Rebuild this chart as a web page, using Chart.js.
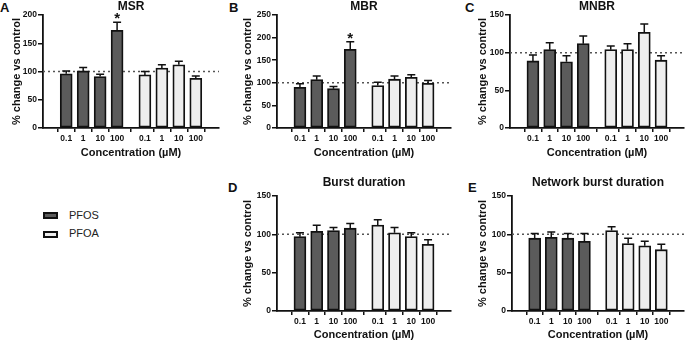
<!DOCTYPE html>
<html>
<head>
<meta charset="utf-8">
<script src="https://cdn.jsdelivr.net/npm/chart.js@4.4.1/dist/chart.umd.min.js"></script>
<style>
  body { margin: 0; background: #fff; }
  #wrap { position: relative; width: 685px; height: 340px; overflow: hidden; font-family: Arial, "Liberation Sans", sans-serif; }
  canvas { position: absolute; }
  .lett { position: absolute; font-weight: bold; font-size: 13px; line-height: 13px; color: #111; }
  .lbox { position: absolute; width: 15px; height: 7px; border: 2px solid #111; box-sizing: border-box; }
  .ltxt { position: absolute; font-size: 11px; line-height: 12px; color: #222; }
</style>
</head>
<body>
<div id="wrap">
  <div class="lett" style="left:0px;top:1px">A</div>
  <div class="lett" style="left:229px;top:1px">B</div>
  <div class="lett" style="left:465px;top:1px">C</div>
  <div class="lett" style="left:228px;top:181px">D</div>
  <div class="lett" style="left:468px;top:181px">E</div>

  <div class="lbox" style="left:43px;top:212px;background:#5b5b5b"></div>
  <div class="ltxt" style="left:69px;top:209px">PFOS</div>
  <div class="lbox" style="left:43px;top:231px;background:#eeeeee"></div>
  <div class="ltxt" style="left:69px;top:227px">PFOA</div>
</div>
<script>
// concentrations (µM), same for both compounds
const doses = ['0.1', '1', '10', '100'];

// MSR
const msrPFOS = [96, 101, 91, 173];
const msrPFOSsem = [5, 6, 4, 14];
const msrPFOA = [94, 106, 112, 88];
const msrPFOAsem = [6, 6, 6, 4];
const msrSig = ['', '', '', '*'];

// MBR
const mbrPFOS = [90, 107, 87, 174];
const mbrPFOSsem = [8, 8, 5, 17];
const mbrPFOA = [94, 108, 112, 99];
const mbrPFOAsem = [7, 7, 6, 6];
const mbrSig = ['', '', '', '*'];

// MNBR
const mnbrPFOS = [89, 104, 88, 112];
const mnbrPFOSsem = [8, 9, 8, 10];
const mnbrPFOA = [104, 104, 127, 90];
const mnbrPFOAsem = [5, 8, 11, 6];

// Burst duration
const bdPFOS = [97, 104, 105, 108];
const bdPFOSsem = [5, 8, 4, 6];
const bdPFOA = [112, 102, 97, 87];
const bdPFOAsem = [7, 7, 5, 6];

// Network burst duration
const nbdPFOS = [95, 96, 95, 91];
const nbdPFOSsem = [6, 7, 6, 10];
const nbdPFOA = [105, 88, 85, 80];
const nbdPFOAsem = [5, 7, 6, 7];

// where the bars sit on the x axis (group gap between PFOS and PFOA)
const xPFOS = [0, 1, 2, 3];
const xPFOA = [4.64, 5.64, 6.64, 7.64];
const X_MIN = -0.72, X_MAX = 8.36;

const FONT = 'Arial, "Liberation Sans", sans-serif';

const errorBars = {
  id: 'errorBars',
  beforeDatasetsDraw(chart) {
    const {ctx, chartArea, scales: {y}} = chart;
    const yy = y.getPixelForValue(100);
    ctx.save();
    ctx.strokeStyle = '#555';
    ctx.lineWidth = 1.5;
    ctx.setLineDash([2, 3]);
    ctx.beginPath();
    ctx.moveTo(chartArea.left, yy);
    ctx.lineTo(chartArea.right, yy);
    ctx.stroke();
    ctx.restore();
  },
  afterDatasetsDraw(chart) {
    const {ctx, scales: {y}} = chart;
    ctx.save();
    ctx.strokeStyle = '#111';
    ctx.lineWidth = 1.5;
    chart.data.datasets.forEach((ds, di) => {
      const meta = chart.getDatasetMeta(di);
      meta.data.forEach((bar, i) => {
        const top = y.getPixelForValue(ds.data[i].y + ds.sem[i]);
        ctx.beginPath();
        ctx.moveTo(bar.x, bar.y);
        ctx.lineTo(bar.x, top);
        ctx.moveTo(bar.x - 4, top);
        ctx.lineTo(bar.x + 4, top);
        ctx.stroke();
        if (ds.sig && ds.sig[i]) {
          ctx.fillStyle = '#111';
          ctx.font = 'bold 15px ' + FONT;
          ctx.textAlign = 'center';
          ctx.textBaseline = 'alphabetic';
          ctx.fillText(ds.sig[i], bar.x, top + 1);
        }
      });
    });
    ctx.restore();
  }
};

function pts(xs, ys) {
  return xs.map((x, i) => ({x: x, y: ys[i]}));
}

function makePanel(p) {
  const [x0, y0, w, h] = p.box;
  const cv = document.createElement('canvas');
  cv.width = w;
  cv.height = h;
  cv.style.left = x0 + 'px';
  cv.style.top = y0 + 'px';
  document.getElementById('wrap').appendChild(cv);

  const yW = p.area.l - x0;
  const xH = y0 + h - p.area.b;
  const tTop = p.titleY - y0 - 7.2;
  const tBot = (p.area.t - y0) - 14.4 - tTop;

  new Chart(cv, {
    type: 'bar',
    data: {
      datasets: [{
        label: 'PFOS',
        data: pts(xPFOS, p.pfos),
        sem: p.pfosSem,
        sig: p.sig,
        backgroundColor: '#5b5b5b'
      }, {
        label: 'PFOA',
        data: pts(xPFOA, p.pfoa),
        sem: p.pfoaSem,
        backgroundColor: '#eeeeee'
      }]
    },
    options: {
      responsive: false,
      devicePixelRatio: 1,
      animation: false,
      layout: {padding: {left: 0, right: x0 + w - p.area.r, top: 0, bottom: 0}},
      datasets: {
        bar: {
          grouped: false,
          barThickness: 12,
          borderColor: '#111',
          borderWidth: 1.8,
          borderSkipped: false
        }
      },
      plugins: {
        legend: {display: false},
        tooltip: {enabled: false},
        title: {
          display: true,
          text: p.title,
          fullSize: false,
          color: '#111',
          font: {family: FONT, size: 12, weight: 'bold', lineHeight: 1.2},
          padding: {top: tTop, bottom: tBot}
        }
      },
      scales: {
        x: {
          type: 'linear',
          min: X_MIN,
          max: X_MAX,
          afterBuildTicks: ax => { ax.ticks = xPFOS.concat(xPFOA).map(v => ({value: v})); },
          afterFit: s => { s.height = xH; },
          ticks: {
            autoSkip: false,
            maxRotation: 0,
            padding: 1.5,
            color: '#111',
            font: {family: FONT, size: 8.5, weight: 'bold'},
            callback: (v, i) => doses[i % 4]
          },
          grid: {drawOnChartArea: false, tickLength: 4, tickColor: '#111', lineWidth: 1.5},
          border: {color: '#111', width: 1.8},
          title: {
            display: true,
            text: 'Concentration (µM)',
            color: '#111',
            font: {family: FONT, size: 11, weight: 'bold', lineHeight: 1.2},
            padding: {top: 0, bottom: (y0 + h) - p.xTitleY - 6.6}
          }
        },
        y: {
          min: 0,
          max: p.yMax,
          afterFit: s => { s.width = yW; },
          ticks: {
            stepSize: 50,
            padding: 1,
            color: '#111',
            font: {family: FONT, size: 8.5, weight: 'bold'}
          },
          grid: {drawOnChartArea: false, tickLength: 5, tickColor: '#111', lineWidth: 1.5},
          border: {color: '#111', width: 1.8},
          title: {
            display: true,
            text: '% change vs control',
            color: '#111',
            font: {family: FONT, size: 11, weight: 'bold', lineHeight: 1.2},
            padding: {top: p.yTitleX - x0 - 6.6, bottom: 0}
          }
        }
      }
    },
    plugins: [errorBars]
  });
}

makePanel({
  title: 'MSR', pfos: msrPFOS, pfosSem: msrPFOSsem, pfoa: msrPFOA, pfoaSem: msrPFOAsem, sig: msrSig,
  yMax: 200, box: [0, -1, 225, 166], area: {l: 43, t: 15, r: 219, b: 128},
  titleY: 7, xTitleY: 153, yTitleX: 17
});
makePanel({
  title: 'MBR', pfos: mbrPFOS, pfosSem: mbrPFOSsem, pfoa: mbrPFOA, pfoaSem: mbrPFOAsem, sig: mbrSig,
  yMax: 250, box: [225, -3, 230, 168], area: {l: 277, t: 15, r: 451, b: 128},
  titleY: 6.5, xTitleY: 153, yTitleX: 248
});
makePanel({
  title: 'MNBR', pfos: mnbrPFOS, pfosSem: mnbrPFOSsem, pfoa: mnbrPFOA, pfoaSem: mnbrPFOAsem,
  yMax: 150, box: [455, -3, 230, 168], area: {l: 510, t: 15, r: 684, b: 128},
  titleY: 6.5, xTitleY: 152.5, yTitleX: 483
});
makePanel({
  title: 'Burst duration', pfos: bdPFOS, pfosSem: bdPFOSsem, pfoa: bdPFOA, pfoaSem: bdPFOAsem,
  yMax: 150, box: [225, 170, 230, 175], area: {l: 277, t: 196, r: 451, b: 311},
  titleY: 183, xTitleY: 334.5, yTitleX: 248
});
makePanel({
  title: 'Network burst duration', pfos: nbdPFOS, pfosSem: nbdPFOSsem, pfoa: nbdPFOA, pfoaSem: nbdPFOAsem,
  yMax: 150, box: [455, 170, 230, 175], area: {l: 512, t: 196, r: 684, b: 311},
  titleY: 183, xTitleY: 334.5, yTitleX: 483
});
</script>
</body>
</html>
